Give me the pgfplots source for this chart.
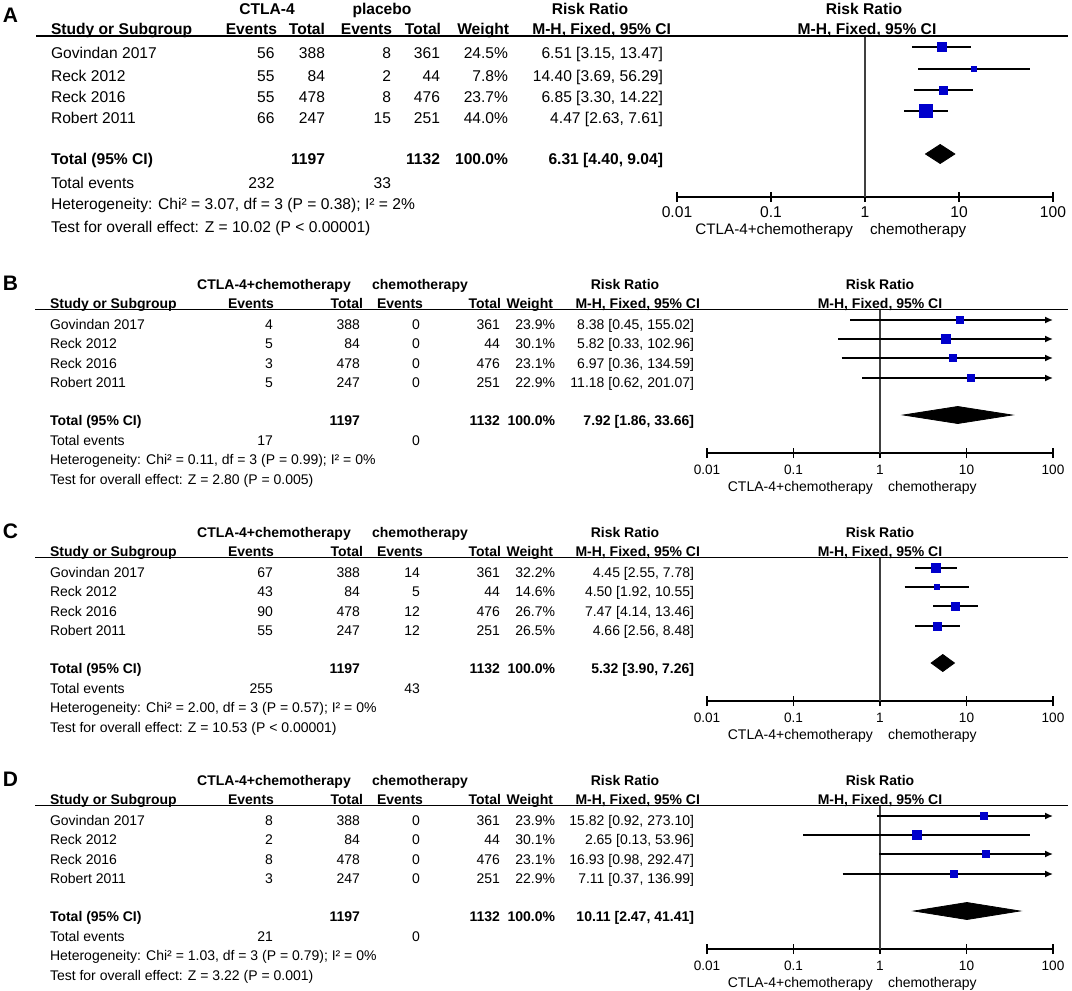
\documentclass[border=0pt]{standalone}
\usepackage{pgfplots}
\pgfplotsset{compat=1.18}
\usepackage{fontspec}
\setmainfont{Liberation Sans}
\usetikzlibrary{arrows.meta}
\definecolor{sqblue}{RGB}{0,0,204}

\newcommand{\fa}{\fontsize{7.8}{9}\selectfont}
\newcommand{\fb}{\fontsize{7}{8.4}\selectfont}

% one table row, panel A: base y, name, events, total, events, total, weight, RR
\newcommand{\rowA}[8]{%
  \node[anchor=base west] at (51,#1) {#2};
  \node[anchor=base east] at (274.5,#1) {#3};
  \node[anchor=base east] at (325,#1) {#4};
  \node[anchor=base east] at (391,#1) {#5};
  \node[anchor=base east] at (440,#1) {#6};
  \node[anchor=base east] at (508,#1) {#7};
  \node[anchor=base east] at (663,#1) {#8};}
% same for panels B-D
\newcommand{\rowB}[8]{%
  \node[anchor=base west] at (50,#1) {#2};
  \node[anchor=base east] at (273,#1) {#3};
  \node[anchor=base east] at (360,#1) {#4};
  \node[anchor=base east] at (420,#1) {#5};
  \node[anchor=base east] at (500,#1) {#6};
  \node[anchor=base east] at (555,#1) {#7};
  \node[anchor=base east] at (694,#1) {#8};}
% header of panels B-D: base of first line, base of second line, letter
\newcommand{\headB}[3]{%
  \node[anchor=base west, font=\fontsize{10.5}{12}\selectfont\bfseries] at (3,#1+1) {#3};
  \begin{scope}[font=\fb\bfseries]
  \node[anchor=base] at (274,#1) {CTLA-4+chemotherapy};
  \node[anchor=base] at (420,#1) {chemotherapy};
  \node[anchor=base] at (625,#1) {Risk Ratio};
  \node[anchor=base] at (880,#1) {Risk Ratio};
  \node[anchor=base west] at (50,#2) {Study or Subgroup};
  \node[anchor=base east] at (274,#2) {Events};
  \node[anchor=base east] at (363,#2) {Total};
  \node[anchor=base east] at (423,#2) {Events};
  \node[anchor=base east] at (501,#2) {Total};
  \node[anchor=base east] at (553,#2) {Weight};
  \node[anchor=base east] at (700,#2) {M-H, Fixed, 95\% CI};
  \node[anchor=base] at (880,#2) {M-H, Fixed, 95\% CI};
  \end{scope}
  \draw[line width=0.7pt] (35,#2+1.5) -- (1068,#2+1.5);}

\pgfplotsset{
  every axis/.append style={
    scale only axis, anchor=south west,
    xmode=log, xmin=0.01, xmax=100,
    axis x line=bottom, axis y line=none,
    axis line style={-, line width=0.8pt, black},
    xtick={0.01,0.1,1,10,100}, xticklabels={0.01,0.1,1,10,100},
    xminorticks=false, tick align=center, major tick length=5pt,
    tick style={line width=0.8pt, black},
    clip=false,
  },
}
\tikzset{
  ciline/.style={black, line width=0.75pt},
  arr/.style={-{Latex[length=4pt,width=3.5pt]}},
  sqmark/.style={only marks, mark=square*, sqblue},
  diafill/.style={black, fill=black},
  oneline/.style={black!75, line width=0.8pt},
}

\begin{document}
\begin{tikzpicture}
\path[use as bounding box] (0,0) rectangle (536pt,-495.5pt);

% ---------- A ----------
\begin{axis}[at={(338.5pt,-98.5pt)}, width=188pt, height=80.75pt,
    ymin=-197, ymax=-35.5, xticklabel style={font=\fontsize{7.8}{9}\selectfont, yshift=1pt}]
  \addplot[oneline] coordinates {(1,-35.5) (1,-197)};
  \addplot[ciline] coordinates {(3.15,-47) (13.47,-47)};
  \addplot[ciline] coordinates {(3.69,-69) (56.29,-69)};
  \addplot[ciline] coordinates {(3.30,-90) (14.22,-90)};
  \addplot[ciline] coordinates {(2.63,-111) (7.61,-111)};
  \addplot[sqmark, mark size=2.25pt] coordinates {(6.51,-47)};
  \addplot[sqmark, mark size=1.25pt] coordinates {(14.40,-69)};
  \addplot[sqmark, mark size=2pt] coordinates {(6.85,-90)};
  \addplot[sqmark, mark size=3.25pt] coordinates {(4.47,-111)};
  \addplot[diafill] coordinates {(4.40,-154) (6.31,-144.5) (9.04,-154) (6.31,-163.5)} -- cycle;
\end{axis}

% ---------- B ----------
\begin{axis}[at={(353.5pt,-226.5pt)}, width=173pt, height=71.75pt,
    ymin=-453, ymax=-309.5, xticklabel style={font=\fontsize{6.8}{8}\selectfont}]
  \addplot[oneline] coordinates {(1,-309.5) (1,-453)};
  \addplot[ciline, arr] coordinates {(0.45,-320) (100,-320)};
  \addplot[ciline, arr] coordinates {(0.33,-339) (100,-339)};
  \addplot[ciline, arr] coordinates {(0.36,-358) (100,-358)};
  \addplot[ciline, arr] coordinates {(0.62,-378) (100,-378)};
  \addplot[sqmark, mark size=1.75pt] coordinates {(8.38,-320)};
  \addplot[sqmark, mark size=2.25pt] coordinates {(5.82,-339)};
  \addplot[sqmark, mark size=1.75pt] coordinates {(6.97,-358)};
  \addplot[sqmark, mark size=1.75pt] coordinates {(11.18,-378)};
  \addplot[diafill] coordinates {(1.86,-415) (7.92,-406.5) (33.66,-415) (7.92,-423.5)} -- cycle;
\end{axis}

% ---------- C ----------
\begin{axis}[at={(353.5pt,-350.5pt)}, width=173pt, height=71.75pt,
    ymin=-701, ymax=-557.5, xticklabel style={font=\fontsize{6.8}{8}\selectfont}]
  \addplot[oneline] coordinates {(1,-557.5) (1,-701)};
  \addplot[ciline] coordinates {(2.55,-568) (7.78,-568)};
  \addplot[ciline] coordinates {(1.92,-587) (10.55,-587)};
  \addplot[ciline] coordinates {(4.14,-606) (13.46,-606)};
  \addplot[ciline] coordinates {(2.56,-626) (8.48,-626)};
  \addplot[sqmark, mark size=2.25pt] coordinates {(4.45,-568)};
  \addplot[sqmark, mark size=1.25pt] coordinates {(4.50,-587)};
  \addplot[sqmark, mark size=2pt] coordinates {(7.47,-606)};
  \addplot[sqmark, mark size=2pt] coordinates {(4.66,-626)};
  \addplot[diafill] coordinates {(3.90,-663) (5.32,-654.5) (7.26,-663) (5.32,-671.5)} -- cycle;
\end{axis}

% ---------- D ----------
\begin{axis}[at={(353.5pt,-474.5pt)}, width=173pt, height=71.75pt,
    ymin=-949, ymax=-805.5, xticklabel style={font=\fontsize{6.8}{8}\selectfont}]
  \addplot[oneline] coordinates {(1,-805.5) (1,-949)};
  \addplot[ciline, arr] coordinates {(0.92,-816) (100,-816)};
  \addplot[ciline] coordinates {(0.13,-835) (53.96,-835)};
  \addplot[ciline, arr] coordinates {(0.98,-854) (100,-854)};
  \addplot[ciline, arr] coordinates {(0.37,-874) (100,-874)};
  \addplot[sqmark, mark size=1.75pt] coordinates {(15.82,-816)};
  \addplot[sqmark, mark size=2.25pt] coordinates {(2.65,-835)};
  \addplot[sqmark, mark size=1.75pt] coordinates {(16.93,-854)};
  \addplot[sqmark, mark size=1.75pt] coordinates {(7.11,-874)};
  \addplot[diafill] coordinates {(2.47,-911) (10.11,-902.5) (41.41,-911) (10.11,-919.5)} -- cycle;
\end{axis}

% ---------- table text ----------
\begin{scope}[x=0.5pt, y=-0.5pt, every node/.style={inner sep=0pt, outer sep=0pt}]
  % panel A
  \node[anchor=base west, font=\fontsize{10.5}{12}\selectfont\bfseries] at (3,22) {A};
  \begin{scope}[font=\fa\bfseries]
    \node[anchor=base] at (267,14) {CTLA-4};
    \node[anchor=base] at (382,14) {placebo};
    \node[anchor=base] at (590,14) {Risk Ratio};
    \node[anchor=base] at (864,14) {Risk Ratio};
    \node[anchor=base west] at (51,34) {Study or Subgroup};
    \node[anchor=base east] at (277,34) {Events};
    \node[anchor=base east] at (325,34) {Total};
    \node[anchor=base east] at (392,34) {Events};
    \node[anchor=base east] at (441,34) {Total};
    \node[anchor=base east] at (509,34) {Weight};
    \node[anchor=base east] at (671,34) {M-H, Fixed, 95\% CI};
    \node[anchor=base] at (867,34) {M-H, Fixed, 95\% CI};
  \end{scope}
  \draw[line width=1pt] (36,35.5) -- (1068,35.5);
  \begin{scope}[font=\fa]
    \rowA{58.5}{Govindan 2017}{56}{388}{8}{361}{24.5\%}{6.51 [3.15, 13.47]}
    \rowA{81}{Reck 2012}{55}{84}{2}{44}{7.8\%}{14.40 [3.69, 56.29]}
    \rowA{102.5}{Reck 2016}{55}{478}{8}{476}{23.7\%}{6.85 [3.30, 14.22]}
    \rowA{123.5}{Robert 2011}{66}{247}{15}{251}{44.0\%}{4.47 [2.63, 7.61]}
    \begin{scope}[font=\fa\bfseries]
      \rowA{164.5}{Total (95\% CI)}{}{1197}{}{1132}{100.0\%}{6.31 [4.40, 9.04]}
    \end{scope}
    \rowA{188.5}{Total events}{232}{}{33}{}{}{}
    \node[anchor=base west] at (51,209) {Heterogeneity: Chi² = 3.07, df = 3 (P = 0.38); I² = 2\%};
    \node[anchor=base west] at (51,232) {Test for overall effect: Z = 10.02 (P < 0.00001)};
  \end{scope}
  \begin{scope}[font=\fontsize{7.6}{9}\selectfont]
    \node[anchor=base east] at (853,234.5) {CTLA-4+chemotherapy};
    \node[anchor=base west] at (870,234.5) {chemotherapy};
  \end{scope}

  % panel B
  \headB{289}{308}{B}
  \begin{scope}[font=\fb]
    \rowB{329}{Govindan 2017}{4}{388}{0}{361}{23.9\%}{8.38 [0.45, 155.02]}
    \rowB{348}{Reck 2012}{5}{84}{0}{44}{30.1\%}{5.82 [0.33, 102.96]}
    \rowB{368}{Reck 2016}{3}{478}{0}{476}{23.1\%}{6.97 [0.36, 134.59]}
    \rowB{387}{Robert 2011}{5}{247}{0}{251}{22.9\%}{11.18 [0.62, 201.07]}
    \begin{scope}[font=\fb\bfseries]
      \rowB{425}{Total (95\% CI)}{}{1197}{}{1132}{100.0\%}{7.92 [1.86, 33.66]}
    \end{scope}
    \rowB{445}{Total events}{17}{}{0}{}{}{}
    \node[anchor=base west] at (50,464) {Heterogeneity: Chi² = 0.11, df = 3 (P = 0.99); I² = 0\%};
    \node[anchor=base west] at (50,484) {Test for overall effect: Z = 2.80 (P = 0.005)};
    \node[anchor=base east] at (873,491) {CTLA-4+chemotherapy};
    \node[anchor=base west] at (888,491) {chemotherapy};
  \end{scope}

  % panel C
  \headB{537}{556}{C}
  \begin{scope}[font=\fb]
    \rowB{577}{Govindan 2017}{67}{388}{14}{361}{32.2\%}{4.45 [2.55, 7.78]}
    \rowB{596}{Reck 2012}{43}{84}{5}{44}{14.6\%}{4.50 [1.92, 10.55]}
    \rowB{616}{Reck 2016}{90}{478}{12}{476}{26.7\%}{7.47 [4.14, 13.46]}
    \rowB{635}{Robert 2011}{55}{247}{12}{251}{26.5\%}{4.66 [2.56, 8.48]}
    \begin{scope}[font=\fb\bfseries]
      \rowB{673}{Total (95\% CI)}{}{1197}{}{1132}{100.0\%}{5.32 [3.90, 7.26]}
    \end{scope}
    \rowB{693}{Total events}{255}{}{43}{}{}{}
    \node[anchor=base west] at (50,712) {Heterogeneity: Chi² = 2.00, df = 3 (P = 0.57); I² = 0\%};
    \node[anchor=base west] at (50,732) {Test for overall effect: Z = 10.53 (P < 0.00001)};
    \node[anchor=base east] at (873,739) {CTLA-4+chemotherapy};
    \node[anchor=base west] at (888,739) {chemotherapy};
  \end{scope}

  % panel D
  \headB{785}{804}{D}
  \begin{scope}[font=\fb]
    \rowB{825}{Govindan 2017}{8}{388}{0}{361}{23.9\%}{15.82 [0.92, 273.10]}
    \rowB{844}{Reck 2012}{2}{84}{0}{44}{30.1\%}{2.65 [0.13, 53.96]}
    \rowB{864}{Reck 2016}{8}{478}{0}{476}{23.1\%}{16.93 [0.98, 292.47]}
    \rowB{883}{Robert 2011}{3}{247}{0}{251}{22.9\%}{7.11 [0.37, 136.99]}
    \begin{scope}[font=\fb\bfseries]
      \rowB{921}{Total (95\% CI)}{}{1197}{}{1132}{100.0\%}{10.11 [2.47, 41.41]}
    \end{scope}
    \rowB{941}{Total events}{21}{}{0}{}{}{}
    \node[anchor=base west] at (50,960) {Heterogeneity: Chi² = 1.03, df = 3 (P = 0.79); I² = 0\%};
    \node[anchor=base west] at (50,980) {Test for overall effect: Z = 3.22 (P = 0.001)};
    \node[anchor=base east] at (873,987) {CTLA-4+chemotherapy};
    \node[anchor=base west] at (888,987) {chemotherapy};
  \end{scope}
\end{scope}
\end{tikzpicture}
\end{document}
